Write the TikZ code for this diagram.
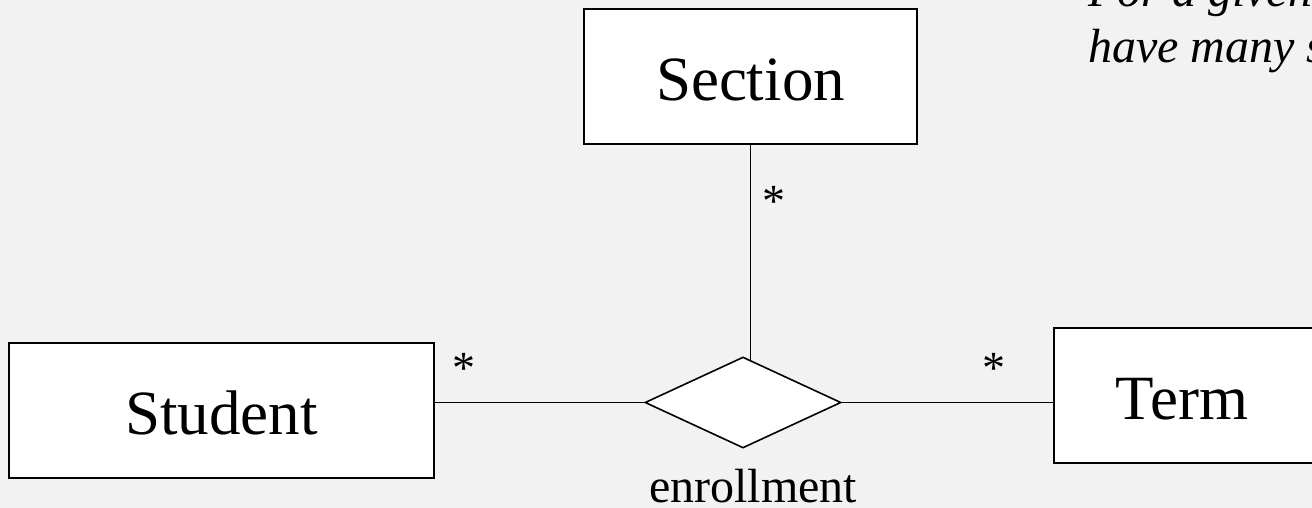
\documentclass[tikz,border=0pt]{standalone}
\usepackage{fontspec}
\setmainfont{Liberation Serif}
\usetikzlibrary{shapes.geometric}
\definecolor{pagebg}{HTML}{F2F2F2}
\tikzset{
  entity/.style={draw, fill=white, line width=2pt, inner sep=0pt,
    minimum height=135pt, text height=48pt, text depth=0pt,
    font=\fontsize{63}{70}\selectfont},
  relation/.style={diamond, draw, fill=white, line width=1.6pt, inner sep=0pt,
    minimum width=196pt, minimum height=91pt},
  link/.style={line width=1.6pt},
  mult/.style={anchor=base, inner sep=0pt, font=\fontsize{46}{50}\selectfont},
  caption/.style={anchor=base, inner sep=0pt, font=\fontsize{48}{56}\selectfont},
  note/.style={anchor=base west, inner sep=0pt, align=left,
    font=\fontsize{48}{56}\selectfont\itshape}
}
\begin{document}
\begin{tikzpicture}[x=1pt, y=-1pt]
  % page area and background
  \fill[pagebg] (0,0) rectangle (1312,508);
  \useasboundingbox (0,0) rectangle (1312,508);

  % entities
  \node[entity, minimum width=425pt] (student) at (221.5,410) {Student};
  \node[entity, minimum width=333pt] (section) at (750.5,76.5) {Section};
  \node[entity, minimum width=300pt, anchor=west] (term) at (1053,395.5) {Term\kern44pt};

  % ternary relationship
  \node[relation] (enroll) at (743,402.5) {};
  \node[caption] (enrollname) at (753,502) {enrollment};

  % connectors
  \draw[link] (section.south) -- ([yshift=-3.5pt]section.south |- enroll.north);
  \draw[link] (enroll.west -| student.east) -- (enroll.west);
  \draw[link] (enroll.east) -- (enroll.east -| term.west);

  % multiplicities
  \node[mult] (mstudent) at (464,383) {*};
  \node[mult] (mterm) at (994,383) {*};
  \node[mult] (msection) at (774,216) {*};

  % note (base anchor sits on its last line)
  \node[note] (remark) at (1088,63) {For a given\\have many s};
\end{tikzpicture}
\end{document}
